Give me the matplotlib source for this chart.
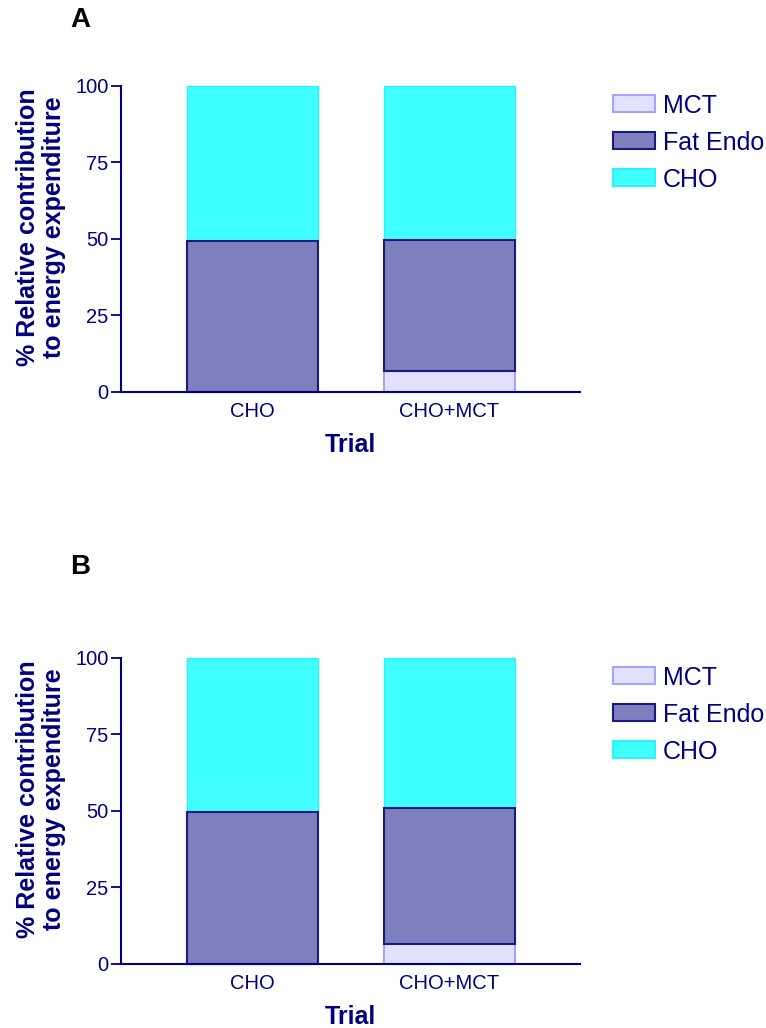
import matplotlib.pyplot as plt
from matplotlib.patches import Patch

plt.rcParams['font.family'] = ['Liberation Sans', 'DejaVu Sans']

trials = ['CHO', 'CHO+MCT']
# panel A
mct_a = [0, 6.9]
fat_a = [49.3, 42.9]
# panel B
mct_b = [0, 6.5]
fat_b = [49.7, 44.3]

navy = '#000080'
c_mct, e_mct = '#e2e2ff', '#a4a4ff'
c_fat, e_fat = '#7f7fbd', '#1a1a80'
c_cho, e_cho = '#40ffff', '#30f0ff'

fig = plt.figure(figsize=(7.66, 10.28), dpi=100)


def panel(rect, mct, fat, letter, ly):
    ax = fig.add_axes(rect)
    x = range(len(trials))
    cho = [100 - m - f for m, f in zip(mct, fat)]
    ax.bar(x, mct, width=0.665, color=c_mct, edgecolor=e_mct, linewidth=1.5, clip_on=False, zorder=2)
    ax.bar(x, fat, width=0.665, bottom=mct, color=c_fat, edgecolor=e_fat, linewidth=1.5, clip_on=False, zorder=2)
    bot = [m + f for m, f in zip(mct, fat)]
    ax.bar(x, cho, width=0.665, bottom=bot, color=c_cho, edgecolor=e_cho, linewidth=1.0, clip_on=False, zorder=1)
    ax.set_xlim(-0.667, 1.662)
    ax.set_ylim(0, 100)
    ax.set_yticks([0, 25, 50, 75, 100])
    ax.set_xticks(list(x))
    ax.set_xticklabels(trials)
    for s in ['top', 'right']:
        ax.spines[s].set_visible(False)
    for s in ['left', 'bottom']:
        ax.spines[s].set_color(navy)
        ax.spines[s].set_linewidth(1.5)
    ax.tick_params(axis='y', colors=navy, labelsize=14.5, length=7, width=1.3, direction='out', pad=2)
    ax.tick_params(axis='x', colors=navy, labelsize=14.5, length=0, pad=7)
    ax.set_xlabel('Trial', fontsize=18, fontweight='bold', color=navy)
    ax.xaxis.set_label_coords(0.5, -0.135)
    ax.set_ylabel('% Relative contribution\nto energy expenditure', fontsize=18,
                  fontweight='bold', color=navy, linespacing=1.1)
    ax.yaxis.set_label_coords(-0.12, 0.539)
    fig.text(0.1044, ly, letter, fontsize=20, fontweight='bold', color='black', ha='center', va='center')
    handles = [Patch(facecolor=c_mct, edgecolor=e_mct, linewidth=1.5, label='MCT'),
               Patch(facecolor=c_fat, edgecolor=e_fat, linewidth=1.5, label='Fat Endo'),
               Patch(facecolor=c_cho, edgecolor=e_cho, linewidth=1.5, label='CHO')]
    leg = ax.legend(handles=handles, loc='upper left', bbox_to_anchor=(1.072, 0.975),
                    frameon=False, fontsize=18, handlelength=1.68, handleheight=0.68,
                    handletextpad=0.32, labelspacing=0.52, borderaxespad=0, borderpad=0)
    for t in leg.get_texts():
        t.set_color(navy)
    return ax


panel([0.158, 0.6187, 0.599, 0.2977], mct_a, fat_a, 'A', 0.9805)
panel([0.158, 0.0623, 0.599, 0.2977], mct_b, fat_b, 'B', 0.4484)

fig.savefig('out.png', dpi=100)
